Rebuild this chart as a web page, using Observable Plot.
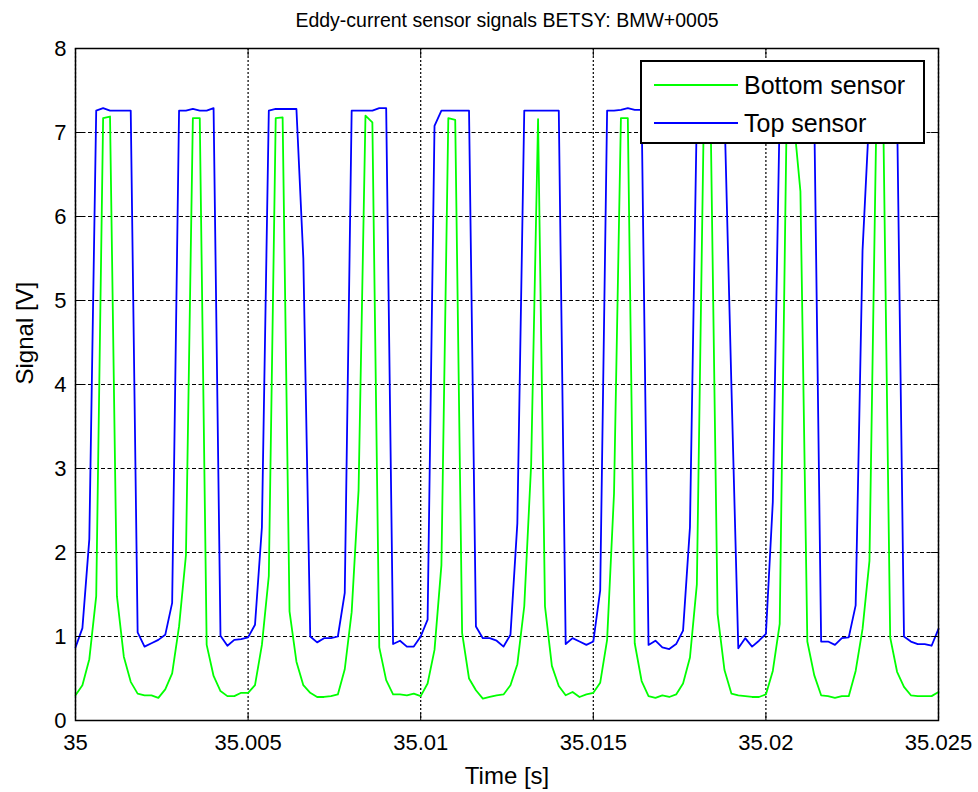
<!DOCTYPE html>
<html>
<head>
<meta charset="utf-8">
<script src="https://cdn.jsdelivr.net/npm/d3@7"></script>
<script src="https://cdn.jsdelivr.net/npm/@observablehq/plot@0.6"></script>
<style>
  html, body { margin: 0; padding: 0; background: #fff; }
  body { font-family: "Liberation Sans", Arial, sans-serif; color: #000; }
  #wrap { position: relative; width: 978px; height: 792px; overflow: hidden; }
  #legend { position: absolute; left: 640px; top: 60px; width: 285px; height: 84px; box-sizing: border-box;
            border: 2px solid #000; background: #fff; }
  .row { position: absolute; left: 0; height: 36px; display: flex; align-items: center; }
  .swatch { margin-left: 12px; width: 84px; height: 2px; }
  .lbl { margin-left: 6px; font-size: 25px; line-height: 1; white-space: nowrap; }
</style>
</head>
<body>
<div id="wrap"></div>
<script>
// ---- data -------------------------------------------------------------
const titleText = "Eddy-current sensor signals BETSY: BMW+0005";
const xLabel = "Time [s]";
const yLabel = "Signal [V]";
const seriesNames = ["Bottom sensor", "Top sensor"];
const seriesColors = ["#00ff00", "#0000ff"];
const xTicks = [35, 35.005, 35.01, 35.015, 35.02, 35.025];
const yTicks = [0, 1, 2, 3, 4, 5, 6, 7, 8];
const tStart = 35;        // s
const sampleStep = 0.0002; // s (5 kHz sampling)

const bottomSensor = [
  0.30, 0.42, 0.73, 1.48, 7.17, 7.19, 1.48, 0.76, 0.46, 0.32,
  0.30, 0.30, 0.27, 0.37, 0.56, 1.12, 1.97, 7.17, 7.17, 0.90,
  0.53, 0.35, 0.29, 0.29, 0.33, 0.33, 0.42, 0.90, 1.72, 7.17,
  7.18, 1.30, 0.70, 0.42, 0.33, 0.28, 0.28, 0.29, 0.31, 0.61,
  1.29, 2.74, 7.20, 7.12, 0.87, 0.48, 0.31, 0.31, 0.30, 0.32,
  0.29, 0.44, 0.84, 1.85, 7.17, 7.15, 1.04, 0.50, 0.36, 0.26,
  0.28, 0.30, 0.31, 0.42, 0.67, 1.36, 3.05, 7.16, 1.36, 0.65,
  0.41, 0.30, 0.34, 0.28, 0.31, 0.33, 0.45, 0.96, 2.70, 7.17,
  7.17, 0.92, 0.47, 0.29, 0.27, 0.30, 0.28, 0.31, 0.44, 0.75,
  1.62, 7.17, 7.15, 1.27, 0.60, 0.32, 0.30, 0.29, 0.28, 0.28,
  0.31, 0.59, 1.15, 7.15, 7.18, 6.30, 0.94, 0.54, 0.30, 0.29,
  0.27, 0.29, 0.29, 0.59, 1.09, 1.90, 7.17, 7.17, 0.99, 0.58,
  0.40, 0.30, 0.29, 0.29, 0.29, 0.34
];

const topSensor = [
  0.87, 1.10, 2.16, 7.26, 7.29, 7.26, 7.26, 7.26, 7.26, 1.05,
  0.88, 0.92, 0.96, 1.02, 1.40, 7.26, 7.26, 7.28, 7.26, 7.26,
  7.29, 1.01, 0.89, 0.96, 0.97, 0.99, 1.14, 2.30, 7.26, 7.28,
  7.28, 7.28, 7.28, 5.50, 1.00, 0.93, 0.98, 0.98, 1.00, 1.52,
  7.26, 7.26, 7.26, 7.26, 7.29, 7.29, 0.91, 0.95, 0.88, 0.88,
  1.00, 1.20, 7.08, 7.26, 7.26, 7.26, 7.26, 7.26, 1.12, 0.98,
  0.98, 0.95, 0.88, 1.02, 2.35, 7.26, 7.26, 7.26, 7.26, 7.26,
  7.26, 0.91, 0.98, 0.94, 0.90, 0.94, 1.55, 7.26, 7.26, 7.27,
  7.29, 7.27, 7.27, 0.90, 0.95, 0.87, 0.85, 0.91, 1.07, 2.30,
  7.26, 7.26, 7.26, 7.26, 7.26, 4.00, 0.86, 0.98, 0.88, 0.95,
  1.03, 2.60, 7.26, 7.26, 7.26, 7.26, 7.26, 7.26, 0.94, 0.94,
  0.90, 0.98, 0.99, 1.37, 5.60, 7.26, 7.26, 7.26, 7.26, 7.26,
  1.00, 0.94, 0.91, 0.91, 0.89, 1.09
];

// ---- table built from the arrays --------------------------------------
const toRows = (vals, name) => vals.map((v, i) => ({t: tStart + i * sampleStep, v, series: name}));
const bottomRows = toRows(bottomSensor, seriesNames[0]);
const topRows = toRows(topSensor, seriesNames[1]);

// plain straight tick shape for inward MATLAB-style ticks
const tickShape = { draw(context, l) { context.moveTo(0, 0); context.lineTo(0, -l); } };
const tickStyle = { length: 7, anchor: "start", shape: tickShape, stroke: "#000", strokeWidth: 1 };

const chart = Plot.plot({
  width: 978,
  height: 792,
  marginLeft: 75,
  marginRight: 40,
  marginTop: 48,
  marginBottom: 72,
  style: { fontFamily: "'Liberation Sans', Arial, sans-serif", fontSize: "22px", color: "#000", background: "#fff" },
  x: { domain: [xTicks[0], xTicks[xTicks.length - 1]] },
  y: { domain: [yTicks[0], yTicks[yTicks.length - 1]] },
  marks: [
    Plot.gridX(xTicks, { stroke: "#000", strokeOpacity: 1, strokeWidth: 1.2, strokeDasharray: "2,2" }),
    Plot.gridY(yTicks, { stroke: "#000", strokeOpacity: 1, strokeWidth: 1.2, strokeDasharray: "4,2.5" }),
    Plot.line(bottomRows, { x: "t", y: "v", stroke: seriesColors[0], strokeWidth: 1.8 }),
    Plot.line(topRows, { x: "t", y: "v", stroke: seriesColors[1], strokeWidth: 1.8 }),
    Plot.vector(yTicks, { y: d => d, frameAnchor: "left", rotate: 90, ...tickStyle }),
    Plot.vector(yTicks, { y: d => d, frameAnchor: "right", rotate: -90, ...tickStyle }),
    Plot.vector(xTicks, { x: d => d, frameAnchor: "bottom", rotate: 0, ...tickStyle }),
    Plot.vector(xTicks, { x: d => d, frameAnchor: "top", rotate: 180, ...tickStyle }),
    Plot.frame({ stroke: "#000", strokeWidth: 1.5 }),
    Plot.axisX(xTicks, { tickSize: 0, tickPadding: 14, tickFormat: d => String(d), label: null, fontSize: 22 }),
    Plot.axisY(yTicks, { tickSize: 0, tickPadding: 9, tickFormat: d => String(d), label: null, fontSize: 22 }),
    Plot.text([titleText], { text: d => d, frameAnchor: "top", lineAnchor: "middle", dy: -28, fontSize: 19.5 }),
    Plot.text([xLabel], { text: d => d, frameAnchor: "bottom", lineAnchor: "middle", dy: 56, fontSize: 24 }),
    Plot.text([yLabel], { text: d => d, frameAnchor: "left", lineAnchor: "middle", rotate: -90, dx: -50, fontSize: 24 })
  ]
});

const wrap = document.getElementById("wrap");
wrap.appendChild(chart);

// legend (overlaid on the axes, like the original)
const legend = document.createElement("div");
legend.id = "legend";
seriesNames.forEach((name, i) => {
  const row = document.createElement("div");
  row.className = "row";
  row.style.top = (5 + i * 38) + "px";
  const sw = document.createElement("span");
  sw.className = "swatch";
  sw.style.background = seriesColors[i];
  const lb = document.createElement("span");
  lb.className = "lbl";
  lb.textContent = name;
  row.appendChild(sw);
  row.appendChild(lb);
  legend.appendChild(row);
});
wrap.appendChild(legend);
</script>
</body>
</html>
